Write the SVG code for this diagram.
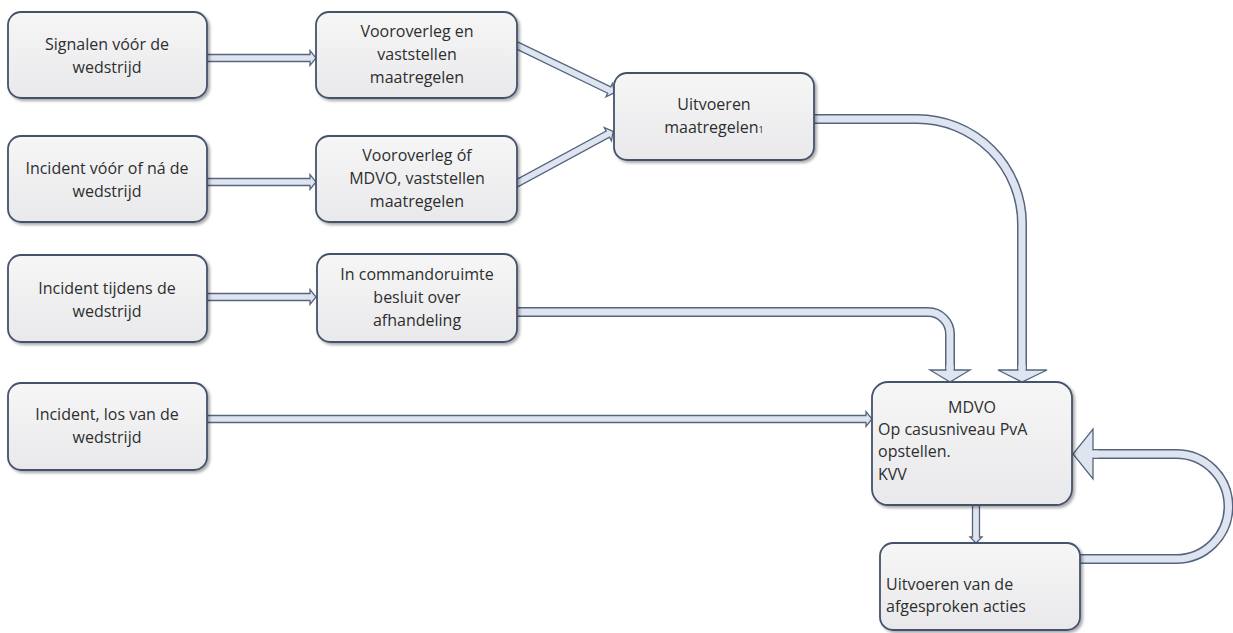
<svg xmlns="http://www.w3.org/2000/svg" width="1233" height="633" viewBox="0 0 1233 633">
<defs>
<linearGradient id="boxg" x1="0" y1="0" x2="0" y2="1">
<stop offset="0" stop-color="#f6f6f7"/>
<stop offset="1" stop-color="#e9e9eb"/>
</linearGradient>
<filter id="sh" x="-10%" y="-10%" width="125%" height="130%">
<feGaussianBlur in="SourceAlpha" stdDeviation="1.6"/>
<feOffset dx="2" dy="2" result="b"/>
<feComponentTransfer><feFuncA type="linear" slope="0.35"/></feComponentTransfer>
<feMerge><feMergeNode/><feMergeNode in="SourceGraphic"/></feMerge>
</filter>
</defs>
<style>
.box{fill:url(#boxg);stroke:#45536b;stroke-width:1.8;filter:url(#sh)}
.t{font-family:"Open Sans","Liberation Sans",sans-serif;font-size:16px;fill:#2e2e2e;text-anchor:middle}
.tl{font-family:"Open Sans","Liberation Sans",sans-serif;font-size:16px;fill:#2e2e2e}
.ar{fill:#dfe5f0;stroke:#56657f;stroke-width:1.3;stroke-linejoin:miter}
.so{fill:none;stroke:#56657f}
.si{fill:none;stroke:#dfe5f0}
</style>
<rect width="1233" height="633" fill="#fff"/>
<g id="connectors">
<polygon class="ar" points="200,54.5 310,54.5 310,50.5 316,58 310,65.5 310,61.5 200,61.5"/>
<polygon class="ar" points="200,178.5 310,178.5 310,174.5 316,182 310,189.5 310,185.5 200,185.5"/>
<polygon class="ar" points="200,293.5 310,293.5 310,289.5 316,297 310,304.5 310,300.5 200,300.5"/>
<polygon class="ar" points="200,415.5 866,415.5 866,411.5 872,419 866,426.5 866,422.5 200,422.5"/>
<polygon class="ar" transform="translate(512,43) rotate(25.85)" points="0,-3.5 108,-3.5 108,-7.5 114,0 108,7.5 108,3.5 0,3.5"/>
<polygon class="ar" transform="translate(512,186) rotate(-28.4)" points="0,-3.5 109,-3.5 109,-7.5 115,0 109,7.5 109,3.5 0,3.5"/>
<polygon class="ar" points="972.5,500 972.5,537 970,537 976,543 982,537 979.5,537 979.5,500"/>
<path class="so" stroke-width="10" d="M808,119 H917 A105,105 0 0 1 1022,224 V371"/>
<path class="si" stroke-width="7" d="M808,119 H917 A105,105 0 0 1 1022,224 V371"/>
<polygon class="ar" points="998,370 1047,370 1022,382"/>
<path class="si" stroke-width="7" d="M1022,365 V373"/>
<path class="so" stroke-width="10" d="M510,312 H928 A22,22 0 0 1 950,334 V371"/>
<path class="si" stroke-width="7" d="M510,312 H928 A22,22 0 0 1 950,334 V371"/>
<polygon class="ar" points="930,370 970,370 950,382"/>
<path class="si" stroke-width="7" d="M950,365 V373"/>
<path class="so" stroke-width="10" d="M1074,559 H1176 A52.5,52.5 0 0 0 1176,454 H1092"/>
<path class="si" stroke-width="7" d="M1074,559 H1176 A52.5,52.5 0 0 0 1176,454 H1092"/>
<polygon class="ar" points="1093,429 1093,479 1073,454"/>
<path class="si" stroke-width="7" d="M1098,454 H1090"/>
</g>
<g id="n1"><rect class="box" x="8" y="12" width="199" height="86" rx="13"/>
<text class="t" x="107" y="50">Signalen vóór de</text><text class="t" x="107" y="73">wedstrijd</text></g>
<g id="n2"><rect class="box" x="8" y="136" width="199" height="86" rx="13"/>
<text class="t" x="107" y="174">Incident vóór of ná de</text><text class="t" x="107" y="197">wedstrijd</text></g>
<g id="n3"><rect class="box" x="8" y="255" width="199" height="87" rx="13"/>
<text class="t" x="107" y="294">Incident tijdens de</text><text class="t" x="107" y="317">wedstrijd</text></g>
<g id="n4"><rect class="box" x="8" y="383" width="199" height="87" rx="13"/>
<text class="t" x="107" y="420">Incident, los van de</text><text class="t" x="107" y="443">wedstrijd</text></g>
<g id="n5"><rect class="box" x="316" y="12" width="201" height="86" rx="13"/>
<text class="t" x="417" y="37">Vooroverleg en</text><text class="t" x="417" y="60">vaststellen</text><text class="t" x="417" y="83">maatregelen</text></g>
<g id="n6"><rect class="box" x="316" y="136" width="201" height="86" rx="13"/>
<text class="t" x="417" y="161">Vooroverleg óf</text><text class="t" x="417" y="184">MDVO, vaststellen</text><text class="t" x="417" y="207">maatregelen</text></g>
<g id="n7"><rect class="box" x="317" y="254" width="200" height="88" rx="13"/>
<text class="t" x="417" y="280">In commandoruimte</text><text class="t" x="417" y="303">besluit over</text><text class="t" x="417" y="326">afhandeling</text></g>
<g id="n8"><rect class="box" x="614" y="73" width="200" height="87" rx="13"/>
<text class="t" x="714" y="110">Uitvoeren</text><text class="t" x="714" y="133">maatregelen<tspan font-size="9">1</tspan></text></g>
<g id="n9"><rect class="box" x="872" y="382" width="200" height="123" rx="16"/>
<text class="t" x="972" y="413">MDVO</text>
<text class="tl" x="878" y="435">Op casusniveau PvA</text>
<text class="tl" x="878" y="457">opstellen.</text>
<text class="tl" x="878" y="480">KVV</text></g>
<g id="n10"><rect class="box" x="880" y="543" width="200" height="87" rx="13"/>
<text class="tl" x="886" y="590">Uitvoeren van de</text>
<text class="tl" x="886" y="612">afgesproken acties</text></g>
</svg>
